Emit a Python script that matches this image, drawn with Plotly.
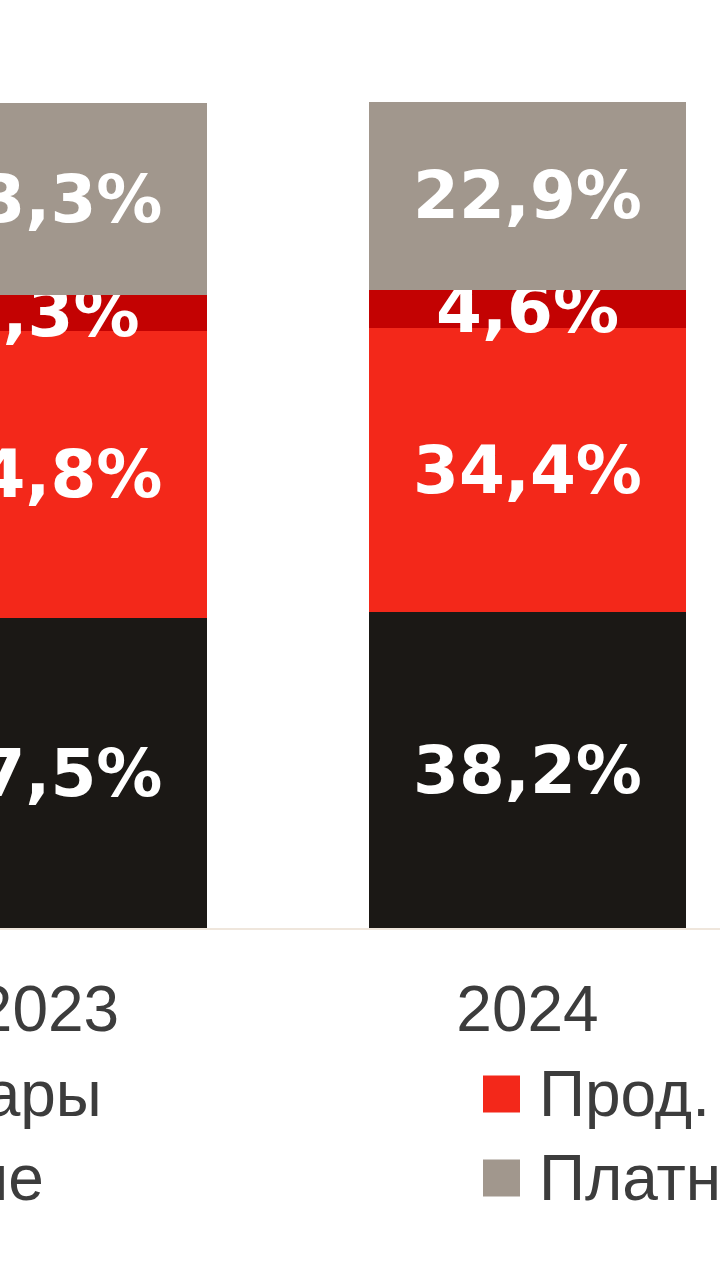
import plotly.graph_objects as go

# ---- data ----
years = ["2023", "2024"]
series_names = ["Непрод. товары", "Прод. товары", "Общ. питание", "Платные услуги"]
nonfood = [37.5, 38.2]
food = [34.8, 34.4]
catering = [4.3, 4.6]
services = [23.3, 22.9]
series_values = [nonfood, food, catering, services]
series_colors = ["#1b1815", "#f3281a", "#c30202", "#a1978d"]

W, H = 720, 1280
M_T, M_B = 102, 352
plot_h = H - M_T - M_B


def fmt(v):
    return f"{v:.1f}".replace(".", ",") + "%"


fig = go.Figure()
for name, vals, col in zip(series_names, series_values, series_colors):
    fig.add_trace(go.Bar(
        x=years, y=vals, name=name,
        marker=dict(color=col, line=dict(width=0)),
        width=0.663,
        text=[fmt(v) for v in vals],
        textposition="inside",
        insidetextanchor="middle",
        constraintext="none",
        textangle=0,
        textfont=dict(family="DejaVu Sans", size=66, color="white", weight="bold"),
        showlegend=False,
        hoverinfo="skip",
    ))

# ---- legend (drawn as squares + labels, two columns, partially cropped) ----
col_text_px = [-374, 537]
row_center_px = [1094, 1178]
sq = 37
gap = 17


def px_to_paper_y(ypx):
    return (H - M_B - ypx) / plot_h


shapes = []
annotations = []
for i, (name, col) in enumerate(zip(series_names, series_colors)):
    c, r = i % 2, i // 2
    tx = col_text_px[c]
    yc = row_center_px[r]
    shapes.append(dict(
        type="rect", xref="paper", yref="paper",
        x0=(tx - gap - sq) / W, x1=(tx - gap) / W,
        y0=px_to_paper_y(yc + sq / 2), y1=px_to_paper_y(yc - sq / 2),
        fillcolor=col, line=dict(width=0), layer="above",
    ))
    annotations.append(dict(
        xref="paper", yref="paper", x=tx / W, y=px_to_paper_y(yc),
        xanchor="left", yanchor="middle", showarrow=False,
        text=name,
        font=dict(family="Liberation Sans, Arial", size=64, color="#3c3c3c"),
    ))

fig.update_layout(
    width=W, height=H,
    barmode="stack",
    paper_bgcolor="white", plot_bgcolor="white",
    margin=dict(l=0, r=0, t=M_T, b=M_B, autoexpand=False),
    showlegend=False,
    shapes=shapes,
    annotations=annotations,
    xaxis=dict(
        type="category",
        range=[-0.1001, 1.4015],
        showline=True, linecolor="#efe6dc", linewidth=2,
        showgrid=False, zeroline=False,
        ticks="", ticklabelstandoff=24,
        tickfont=dict(family="Liberation Sans, Arial", size=64, color="#3c3c3c"),
        fixedrange=True,
    ),
    yaxis=dict(range=[0, 100], visible=False, fixedrange=True),
)

fig.write_html(
    "out.html",
    config={"displayModeBar": False},
    post_script="document.body.style.margin='0';",
)
